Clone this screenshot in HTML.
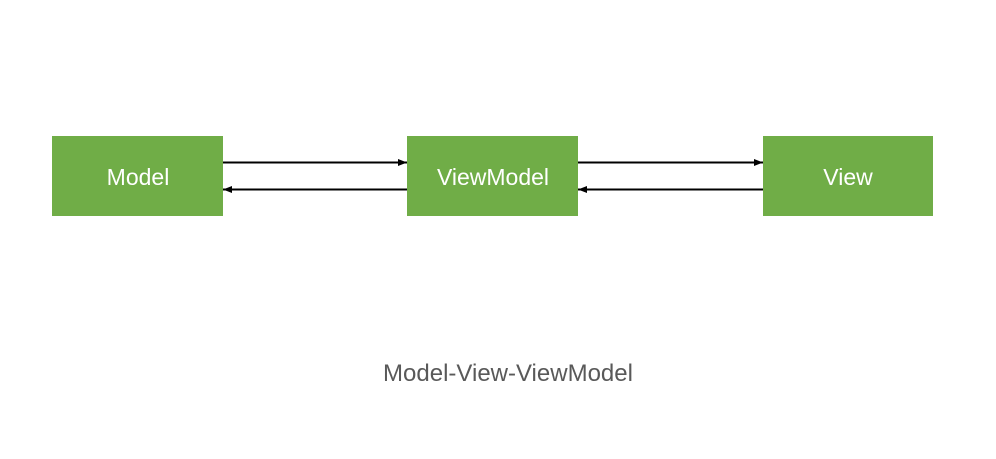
<!DOCTYPE html>
<html><head><meta charset="utf-8"><style>
html,body{margin:0;padding:0;background:#fff;width:996px;height:459px;overflow:hidden}
</style></head><body>
<svg width="996" height="459" viewBox="0 0 996 459" xmlns="http://www.w3.org/2000/svg">
<defs>
<marker id="a" markerWidth="9" markerHeight="7" refX="9" refY="3.5" orient="auto" markerUnits="userSpaceOnUse">
<path d="M0,0 L9,3.5 L0,7 Z" fill="#000"/></marker>
</defs>
<rect x="52" y="136" width="171" height="80" fill="#70AD47"/>
<rect x="407" y="136" width="171" height="80" fill="#70AD47"/>
<rect x="763" y="136" width="170" height="80" fill="#70AD47"/>
<g font-family="Liberation Sans, sans-serif" font-size="23" fill="#fff" text-anchor="middle">
<text x="138" y="185">Model</text>
<text x="493" y="185">ViewModel</text>
<text x="848" y="185">View</text>
</g>
<g stroke="#000" stroke-width="2">
<line x1="223" y1="162.5" x2="407" y2="162.5" marker-end="url(#a)"/>
<line x1="407" y1="189.5" x2="223" y2="189.5" marker-end="url(#a)"/>
<line x1="578" y1="162.5" x2="763" y2="162.5" marker-end="url(#a)"/>
<line x1="763" y1="189.5" x2="578" y2="189.5" marker-end="url(#a)"/>
</g>
<text x="508" y="381" font-family="Liberation Sans, sans-serif" font-size="24" fill="#595959" text-anchor="middle">Model-View-ViewModel</text>
</svg>
</body></html>
